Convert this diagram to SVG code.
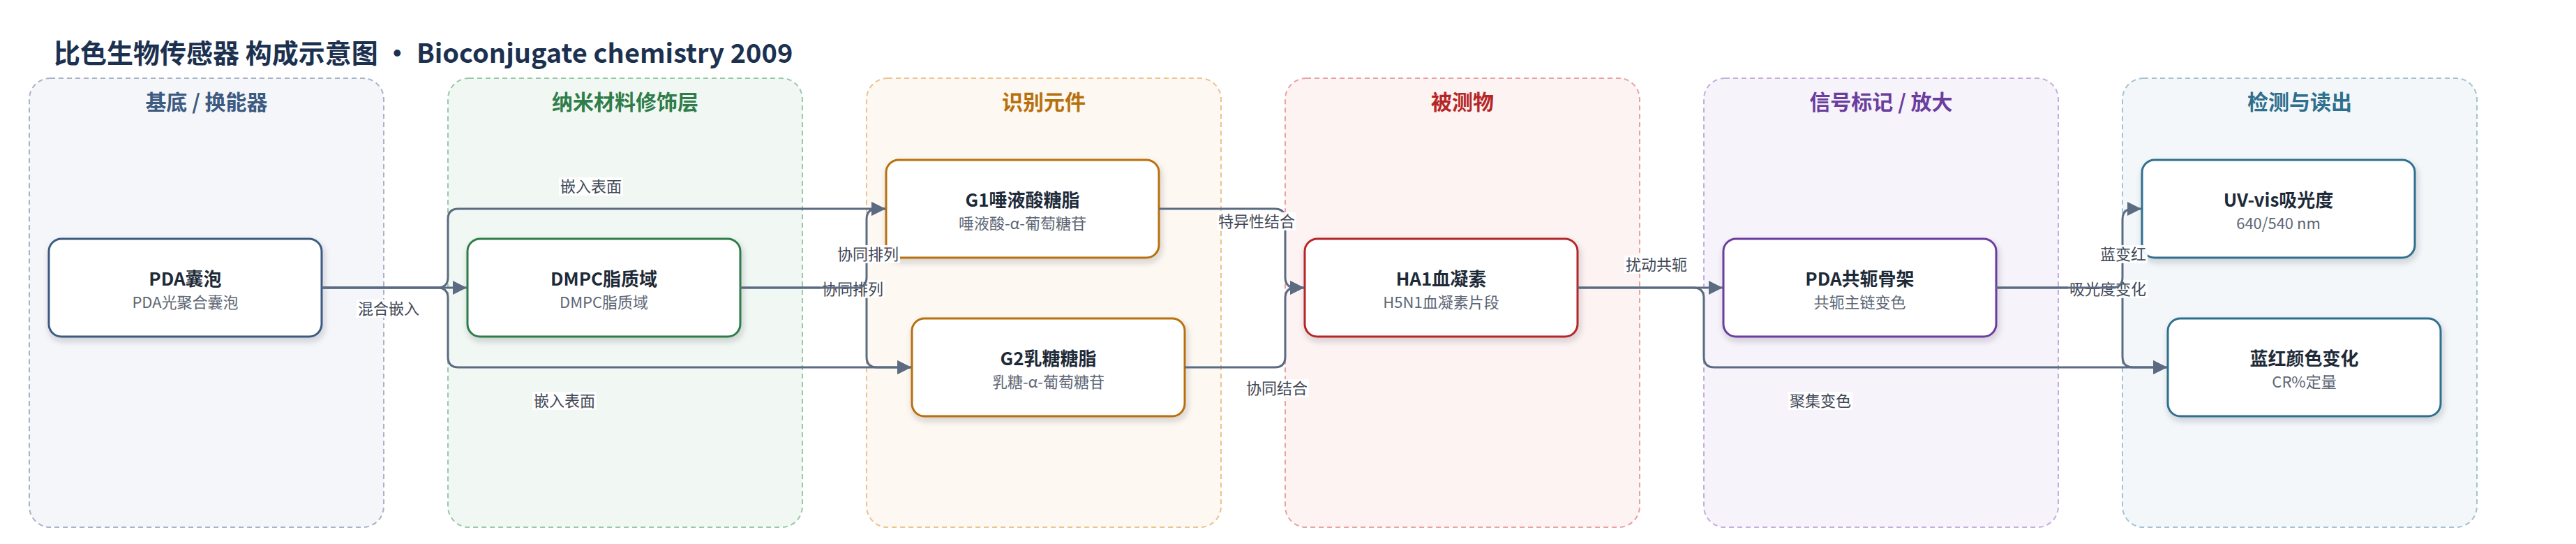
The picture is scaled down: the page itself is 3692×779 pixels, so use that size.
<svg xmlns="http://www.w3.org/2000/svg" width="3692" height="779" viewBox="0 0 3692 779">
<defs>
<filter id="sh" x="-10%" y="-20%" width="125%" height="150%">
<feDropShadow dx="2" dy="5" stdDeviation="5" flood-color="#1e293b" flood-opacity="0.2"/>
</filter>
<marker id="arr" markerUnits="userSpaceOnUse" viewBox="0 0 20 20" markerWidth="20" markerHeight="20" refX="20" refY="10" orient="auto">
<path d="M0,0 L20,10 L0,20 Z" fill="#5b6b82"/>
</marker>
<style>
text{font-family:"Noto Sans CJK SC","Noto Sans",sans-serif}
.title{font-size:38px;font-weight:700;fill:#1c3150}
.grp{stroke-width:2;stroke-dasharray:7 5}
.gt{font-size:30px;font-weight:700;text-anchor:middle}
.node{fill:#fff;stroke-width:3;filter:url(#sh)}
.nt{font-size:26px;font-weight:700;fill:#1e2a38;text-anchor:middle}
.ns{font-size:22px;fill:#5d6675;text-anchor:middle}
.edge{fill:none;stroke:#5b6b82;stroke-width:3;marker-end:url(#arr)}
.lb{fill:#fff;fill-opacity:0.92}
.lt{font-size:22px;fill:#3f4756;text-anchor:middle}
</style>
</defs>
<rect width="3692" height="779" fill="#fff"/>
<text class="title" x="77" y="90">比色生物传感器 构成示意图 · Bioconjugate chemistry 2009</text>

<g id="group-substrate">
<rect class="grp" x="42" y="112" width="508" height="643" rx="30" fill="#f4f6fa" stroke="#a7b3c6"/>
<text class="gt" x="296" y="157" fill="#3d5a80">基底 / 换能器</text>
</g>
<g id="group-nano">
<rect class="grp" x="642" y="112" width="508" height="643" rx="30" fill="#f1f7f3" stroke="#97c9a8"/>
<text class="gt" x="896" y="157" fill="#2e7d4a">纳米材料修饰层</text>
</g>
<g id="group-recog">
<rect class="grp" x="1242" y="112" width="508" height="643" rx="30" fill="#fdf8f1" stroke="#e9c48e"/>
<text class="gt" x="1496" y="157" fill="#b7700c">识别元件</text>
</g>
<g id="group-analyte">
<rect class="grp" x="1842" y="112" width="508" height="643" rx="30" fill="#fdf3f3" stroke="#e8a2a2"/>
<text class="gt" x="2096" y="157" fill="#b52626">被测物</text>
</g>
<g id="group-signal">
<rect class="grp" x="2442" y="112" width="508" height="643" rx="30" fill="#f6f3fa" stroke="#c3aede"/>
<text class="gt" x="2696" y="157" fill="#6a3d9e">信号标记 / 放大</text>
</g>
<g id="group-detect">
<rect class="grp" x="3042" y="112" width="508" height="643" rx="30" fill="#f3f7f9" stroke="#a3c3d2"/>
<text class="gt" x="3296" y="157" fill="#2e6f8e">检测与读出</text>
</g>

<g id="node-pda">
<rect class="node" x="70" y="342" width="391" height="140" rx="18" stroke="#3d5a80"/>
<text class="nt" x="265.5" y="408.5">PDA囊泡</text>
<text class="ns" x="265.5" y="440.5">PDA光聚合囊泡</text>
</g>
<g id="node-dmpc">
<rect class="node" x="670" y="342" width="391" height="140" rx="18" stroke="#2e7d4a"/>
<text class="nt" x="865.5" y="408.5">DMPC脂质域</text>
<text class="ns" x="865.5" y="440.5">DMPC脂质域</text>
</g>
<g id="node-g1">
<rect class="node" x="1270" y="229" width="391" height="140" rx="18" stroke="#b7700c"/>
<text class="nt" x="1465.5" y="295.5">G1唾液酸糖脂</text>
<text class="ns" x="1465.5" y="327.5">唾液酸-α-葡萄糖苷</text>
</g>
<g id="node-g2">
<rect class="node" x="1307" y="456" width="391" height="140" rx="18" stroke="#b7700c"/>
<text class="nt" x="1502.5" y="522.5">G2乳糖糖脂</text>
<text class="ns" x="1502.5" y="554.5">乳糖-α-葡萄糖苷</text>
</g>
<g id="node-ha1">
<rect class="node" x="1870" y="342" width="391" height="140" rx="18" stroke="#b52626"/>
<text class="nt" x="2065.5" y="408.5">HA1血凝素</text>
<text class="ns" x="2065.5" y="440.5">H5N1血凝素片段</text>
</g>
<g id="node-pdabackbone">
<rect class="node" x="2470" y="342" width="391" height="140" rx="18" stroke="#6a3d9e"/>
<text class="nt" x="2665.5" y="408.5">PDA共轭骨架</text>
<text class="ns" x="2665.5" y="440.5">共轭主链变色</text>
</g>
<g id="node-uvvis">
<rect class="node" x="3070" y="229" width="391" height="140" rx="18" stroke="#2e6f8e"/>
<text class="nt" x="3265.5" y="295.5">UV-vis吸光度</text>
<text class="ns" x="3265.5" y="327.5">640/540 nm</text>
</g>
<g id="node-color">
<rect class="node" x="3107" y="456" width="391" height="140" rx="18" stroke="#2e6f8e"/>
<text class="nt" x="3302.5" y="522.5">蓝红颜色变化</text>
<text class="ns" x="3302.5" y="554.5">CR%定量</text>
</g>

<g id="connectors">
<path class="edge" d="M461 412 L669 412"/>
<rect class="lb" x="511" y="429" width="92" height="26"/><text class="lt" x="557" y="450">混合嵌入</text>

<path class="edge" d="M461 412 L627 412 Q642 412 642 427 L642 511 Q642 526 657 526 L1306 526"/>
<rect class="lb" x="763" y="561" width="92" height="26"/><text class="lt" x="809" y="582">嵌入表面</text>

<path class="edge" d="M461 412 L627 412 Q642 412 642 397 L642 314 Q642 299 657 299 L1269 299"/>
<rect class="lb" x="801" y="254" width="92" height="26"/><text class="lt" x="847" y="275">嵌入表面</text>

<path class="edge" d="M1061 412 L1227 412 Q1242 412 1242 427 L1242 511 Q1242 526 1257 526 L1306 526"/>
<rect class="lb" x="1176" y="401" width="92" height="26"/><text class="lt" x="1222" y="422">协同排列</text>

<path class="edge" d="M1061 412 L1227 412 Q1242 412 1242 397 L1242 314 Q1242 299 1257 299 L1269 299"/>
<rect class="lb" x="1198" y="351" width="92" height="26"/><text class="lt" x="1244" y="372">协同排列</text>

<path class="edge" d="M1698 526 L1827 526 Q1842 526 1842 511 L1842 427 Q1842 412 1857 412 L1869 412"/>
<rect class="lb" x="1784" y="543" width="92" height="26"/><text class="lt" x="1830" y="564">协同结合</text>

<path class="edge" d="M1661 299 L1827 299 Q1842 299 1842 314 L1842 397 Q1842 412 1857 412 L1869 412"/>
<rect class="lb" x="1744" y="304" width="114" height="26"/><text class="lt" x="1801" y="325">特异性结合</text>

<path class="edge" d="M2261 412 L2469 412"/>
<rect class="lb" x="2328" y="366" width="92" height="26"/><text class="lt" x="2374" y="387">扰动共轭</text>

<path class="edge" d="M2261 412 L2427 412 Q2442 412 2442 427 L2442 511 Q2442 526 2457 526 L3106 526"/>
<rect class="lb" x="2563" y="561" width="92" height="26"/><text class="lt" x="2609" y="582">聚集变色</text>

<path class="edge" d="M2861 412 L3027 412 Q3042 412 3042 427 L3042 511 Q3042 526 3057 526 L3106 526"/>
<rect class="lb" x="2964" y="401" width="114" height="26"/><text class="lt" x="3021" y="422">吸光度变化</text>

<path class="edge" d="M2861 412 L3027 412 Q3042 412 3042 397 L3042 314 Q3042 299 3057 299 L3069 299"/>
<rect class="lb" x="3008" y="351" width="70" height="26"/><text class="lt" x="3043" y="372">蓝变红</text>
</g>
</svg>
